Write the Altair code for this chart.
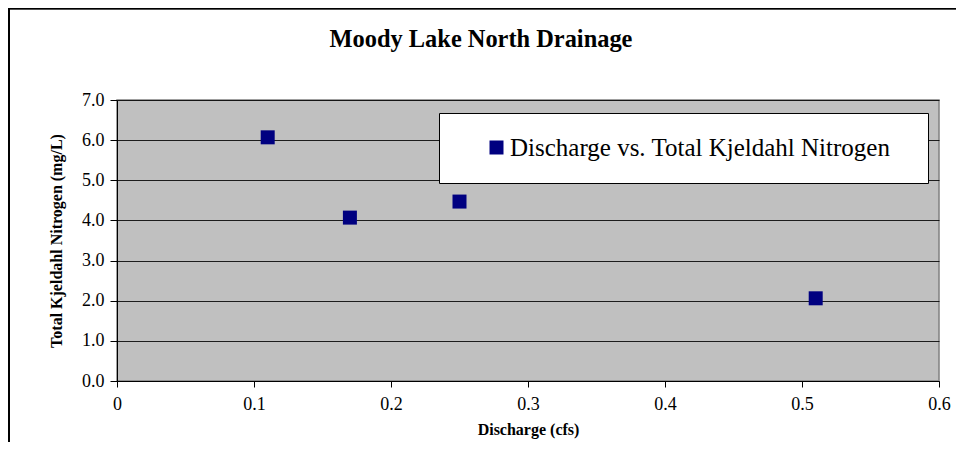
import altair as alt
import pandas as pd

# ---- data ----
discharge = [0.11, 0.17, 0.25, 0.51]
tkn = [6.07, 4.07, 4.47, 2.06]
series_name = ["Discharge vs. Total Kjeldahl Nitrogen"] * 4
x_ticks = [0, 0.1, 0.2, 0.3, 0.4, 0.5, 0.6]
y_ticks = [0, 1, 2, 3, 4, 5, 6, 7]
chart_title = ["Moody Lake North Drainage"]

df = pd.DataFrame({"discharge": discharge, "tkn": tkn, "series": series_name})
df_title = pd.DataFrame({"t": chart_title})

FONT = "Liberation Serif, Times New Roman, serif"
W, H = 822, 281

points = alt.Chart(df).mark_point(shape="square", filled=True, size=196, opacity=1, strokeWidth=0).encode(
    x=alt.X("discharge:Q", scale=alt.Scale(domain=[0, 0.6], nice=False, zero=True),
            axis=alt.Axis(values=x_ticks, format="~g", title="Discharge (cfs)", grid=False,
                          labelFont=FONT, labelFontSize=18, labelColor="#000",
                          titleFont=FONT, titleFontSize=16, titleFontWeight="bold", titleColor="#000",
                          domainColor="#000", tickColor="#000", tickSize=6, labelPadding=8,
                          titlePadding=8, labelFlush=False)),
    y=alt.Y("tkn:Q", scale=alt.Scale(domain=[0, 7], nice=False),
            axis=alt.Axis(values=y_ticks, format=".1f", title="Total Kjeldahl Nitrogen (mg/L)", grid=True,
                          gridColor="#000", gridWidth=1, gridOpacity=0.85,
                          labelFont=FONT, labelFontSize=18, labelColor="#000",
                          titleFont=FONT, titleFontSize=16, titleFontWeight="bold", titleColor="#000",
                          domainColor="#000", tickColor="#000", tickSize=7, labelPadding=6,
                          titlePadding=17)),
    color=alt.Color("series:N", scale=alt.Scale(range=["#000080"]),
                    legend=alt.Legend(title="M", titleOrient="right", titleColor="#ffffff",
                                      titleFontSize=12, titlePadding=4, titleFont=FONT,
                                      orient="none", legendX=322, legendY=13,
                                      fillColor="#ffffff", strokeColor="#000000", padding=22,
                                      symbolType="square", symbolSize=196, symbolStrokeWidth=0,
                                      symbolOffset=23, labelFont=FONT, labelFontSize=25,
                                      labelColor="#000", labelLimit=800, labelOffset=1)),
)

title_mark = alt.Chart(df_title).mark_text(font=FONT, fontSize=24.4, fontWeight="bold", color="#000",
                                           align="center", baseline="alphabetic").encode(
    text="t:N", x=alt.value(364), y=alt.value(-53))

frame_top = alt.Chart(df).mark_rule(color="#000", strokeWidth=1.5).encode(
    x=alt.value(-108), x2=alt.value(W + 17), y=alt.value(-91.5))
frame_left = alt.Chart(df).mark_rule(color="#000", strokeWidth=1.5).encode(
    x=alt.value(-108), y=alt.value(-92), y2=alt.value(H + 61))

chart = alt.layer(frame_top, frame_left, title_mark, points).properties(
    width=W, height=H,
    autosize=alt.AutoSizeParams(type="none"),
    padding={"left": 109, "top": 92, "right": 17, "bottom": 61},
    background="#ffffff",
).configure_view(
    fill="#c0c0c0", stroke="#808080", strokeWidth=1.5
).configure_axis(
    labelFont=FONT, labelFontSize=18, labelColor="#000"
)

chart.save("out.html", embed_options={"renderer": "svg", "actions": False})
